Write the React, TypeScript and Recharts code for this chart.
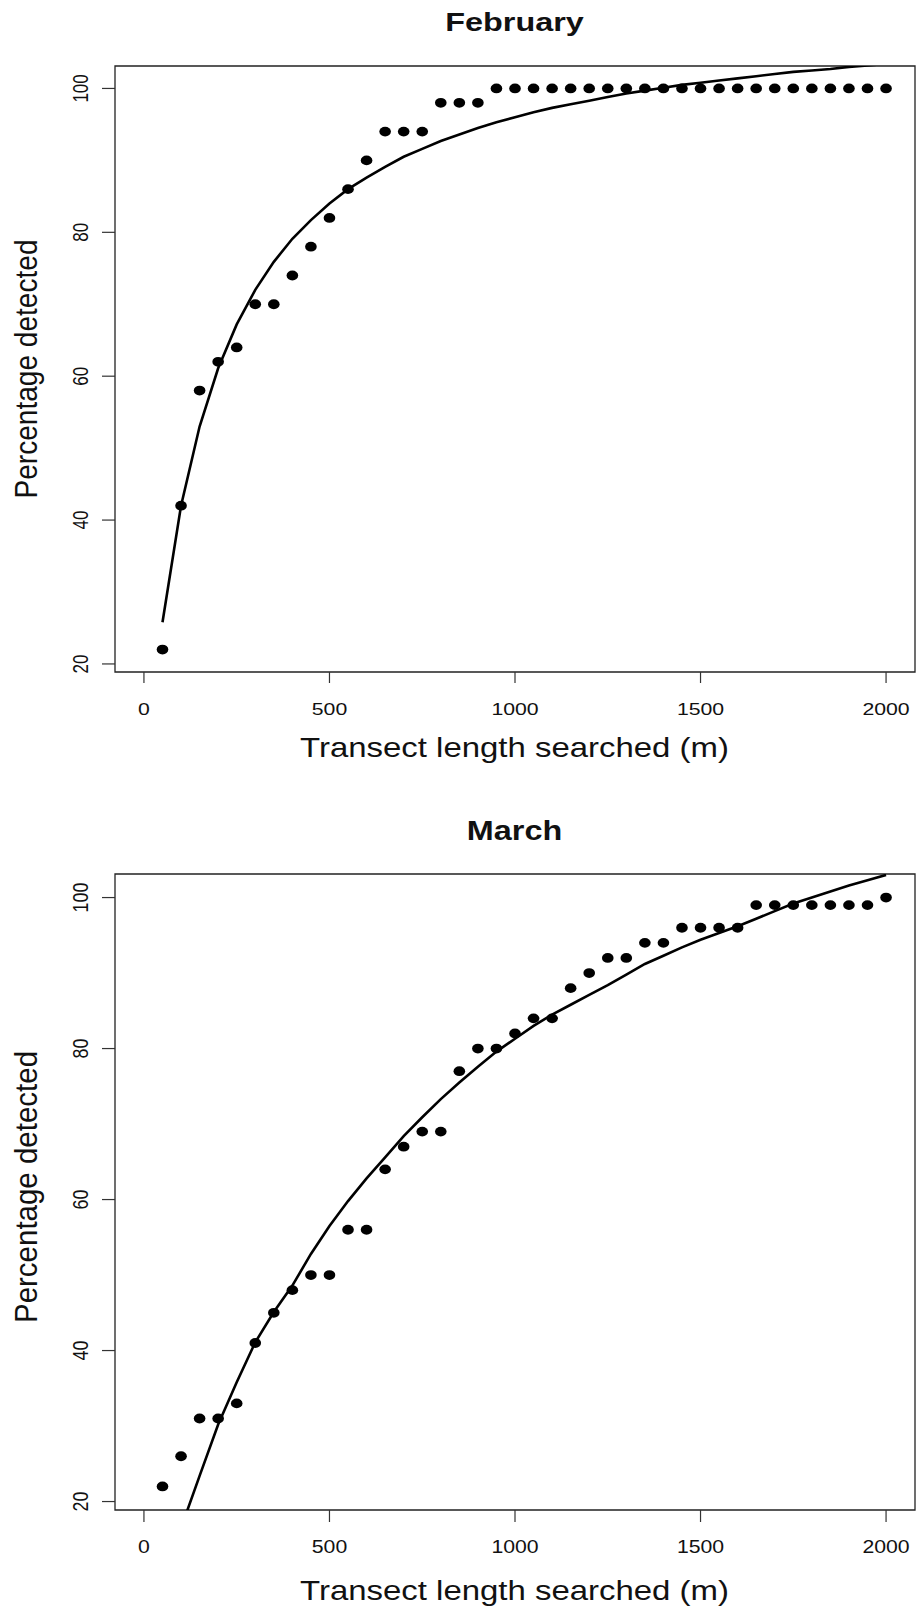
import { ComposedChart, Line, Scatter, XAxis, YAxis, ReferenceArea } from "recharts";

document.body.style.margin = "0";

const lengths = [
  50, 100, 150, 200, 250, 300, 350, 400, 450, 500, 550, 600, 650, 700, 750, 800, 850, 900, 950, 1000,
  1050, 1100, 1150, 1200, 1250, 1300, 1350, 1400, 1450, 1500, 1550, 1600, 1650, 1700, 1750, 1800, 1850, 1900, 1950, 2000,
];

const febDetected = [
  22, 42, 58, 62, 64, 70, 70, 74, 78, 82, 86, 90, 94, 94, 94, 98, 98, 98, 100, 100,
  100, 100, 100, 100, 100, 100, 100, 100, 100, 100, 100, 100, 100, 100, 100, 100, 100, 100, 100, 100,
];
const febFitted = [
  25.8, 42.0, 53.0, 61.1, 67.2, 72.0, 75.9, 79.1, 81.7, 84.0, 86.0, 87.6, 89.1, 90.5, 91.6, 92.7, 93.6, 94.5, 95.3, 96.0,
  96.7, 97.3, 97.8, 98.3, 98.8, 99.3, 99.7, 100.1, 100.5, 100.8, 101.1, 101.4, 101.7, 102.0, 102.3, 102.5, 102.7, 103.0, 103.2, 103.4,
];

const marDetected = [
  22, 26, 31, 31, 33, 41, 45, 48, 50, 50, 56, 56, 64, 67, 69, 69, 77, 80, 80, 82,
  84, 84, 88, 90, 92, 92, 94, 94, 96, 96, 96, 96, 99, 99, 99, 99, 99, 99, 99, 100,
];
const marFitted = [
  9.5, 16.5, 23.4, 30.2, 35.8, 41.1, 45.1, 48.6, 52.8, 56.5, 59.8, 62.8, 65.6, 68.4, 70.9, 73.3, 75.5, 77.6, 79.6, 81.3,
  83.0, 84.5, 85.8, 87.1, 88.4, 89.8, 91.2, 92.3, 93.4, 94.4, 95.3, 96.2, 97.2, 98.2, 99.2, 100.0, 100.8, 101.6, 102.3, 103.0,
];

const xTicks = [0, 500, 1000, 1500, 2000];
const yTicks = [20, 40, 60, 80, 100];
const X_DOMAIN: [number, number] = [-78, 2078];
const Y_DOMAIN: [number, number] = [18.88, 103.12];

const FONT = '"Liberation Sans", Arial, Helvetica, sans-serif';
// the original image is stretched sideways, so text gets a horizontal scale
const SX = 1.25;

const Dot = (props: any) => <ellipse cx={props.cx} cy={props.cy} rx={5.8} ry={4.9} fill="#000" />;

function Panel({
  title,
  observed,
  fitted,
  height,
  top,
  bottom,
  xAxisHeight,
  xTickSize,
  sy,
  titleY,
  xLabelY,
  yLabelY,
}: {
  title: string;
  observed: number[];
  fitted: number[];
  height: number;
  top: number;
  bottom: number;
  xAxisHeight: number;
  xTickSize: number;
  sy: number;
  titleY: number;
  xLabelY: number;
  yLabelY: number;
}) {
  const points = lengths.map((x, i) => ({ x, y: observed[i] }));
  const curve = lengths.map((x, i) => ({ x, y: fitted[i] }));

  const xTick = (p: any) => (
    <text
      transform={`translate(${p.x},${p.y + 43 - xTickSize}) scale(${SX},${sy})`}
      textAnchor="middle"
      fontFamily={FONT}
      fontSize={17}
      fill="#111"
    >
      {p.payload.value}
    </text>
  );
  const yTick = (p: any) => (
    <text
      transform={`translate(${p.x - 14.5},${p.y}) scale(${SX},${sy}) rotate(-90)`}
      textAnchor="middle"
      fontFamily={FONT}
      fontSize={17}
      fill="#111"
    >
      {p.payload.value}
    </text>
  );

  return (
    <div style={{ position: "relative", width: 916, height }}>
      <ComposedChart width={916} height={height} margin={{ top, right: 1, bottom, left: 0 }}>
        <XAxis
          type="number"
          dataKey="x"
          domain={X_DOMAIN}
          ticks={xTicks}
          interval={0}
          allowDataOverflow
          axisLine={false}
          tickLine={{ stroke: "#333", strokeWidth: 1.2 }}
          tickSize={xTickSize}
          tickMargin={0}
          height={xAxisHeight}
          tick={xTick}
        />
        <YAxis
          type="number"
          dataKey="y"
          domain={Y_DOMAIN}
          ticks={yTicks}
          interval={0}
          allowDataOverflow
          width={115}
          axisLine={false}
          tickLine={{ stroke: "#333", strokeWidth: 1.2 }}
          tickSize={13}
          tickMargin={0}
          tick={yTick}
        />
        <ReferenceArea
          x1={X_DOMAIN[0]}
          x2={X_DOMAIN[1]}
          y1={Y_DOMAIN[0]}
          y2={Y_DOMAIN[1]}
          fill="none"
          fillOpacity={0}
          stroke="#222"
          strokeWidth={1.3}
        />
        <Line
          data={curve}
          dataKey="y"
          type="linear"
          stroke="#000"
          strokeWidth={2.6}
          dot={false}
          activeDot={false}
          isAnimationActive={false}
        />
        <Scatter data={points} dataKey="y" shape={Dot} isAnimationActive={false} />
      </ComposedChart>
      <svg
        width={916}
        height={height}
        style={{ position: "absolute", left: 0, top: 0, pointerEvents: "none" }}
      >
        <text
          transform={`translate(514.5,${titleY}) scale(1.27,${sy})`}
          textAnchor="middle"
          fontFamily={FONT}
          fontWeight="bold"
          fontSize={25.5}
          fill="#111"
        >
          {title}
        </text>
        <text
          transform={`translate(514.5,${xLabelY}) scale(1.22,${sy})`}
          textAnchor="middle"
          fontFamily={FONT}
          fontSize={27}
          fill="#111"
        >
          Transect length searched (m)
        </text>
        <text
          transform={`translate(37,${yLabelY}) scale(1.19,${1.04 * sy}) rotate(-90)`}
          textAnchor="middle"
          fontFamily={FONT}
          fontSize={27}
          fill="#111"
        >
          Percentage detected
        </text>
      </svg>
    </div>
  );
}

export default function App() {
  return (
    <div style={{ width: 916, height: 1609, background: "#fff" }}>
      <Panel
        title="February"
        observed={febDetected}
        fitted={febFitted}
        height={800}
        top={66}
        bottom={28}
        xAxisHeight={100}
        xTickSize={11}
        sy={1}
        titleY={31}
        xLabelY={757}
        yLabelY={369}
      />
      <Panel
        title="March"
        observed={marDetected}
        fitted={marFitted}
        height={809}
        top={74}
        bottom={0}
        xAxisHeight={99}
        xTickSize={12}
        sy={1.05}
        titleY={40}
        xLabelY={800}
        yLabelY={387}
      />
    </div>
  );
}
